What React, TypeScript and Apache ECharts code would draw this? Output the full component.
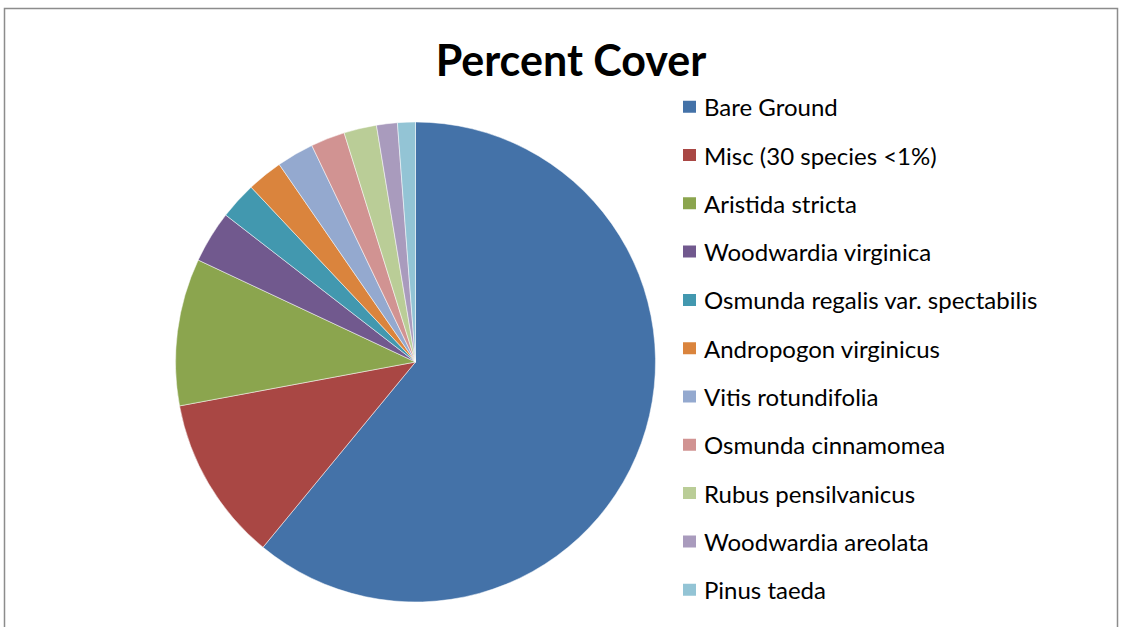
import React, { useEffect, useRef } from "react";
import * as echarts from "echarts";

const categories = [
  "Bare Ground",
  "Misc (30 species <1%)",
  "Aristida stricta",
  "Woodwardia virginica",
  "Osmunda regalis var. spectabilis",
  "Andropogon virginicus",
  "Vitis rotundifolia",
  "Osmunda cinnamomea",
  "Rubus pensilvanicus",
  "Woodwardia areolata",
  "Pinus taeda",
];
const values = [60.9, 11.1, 9.9, 3.5, 2.5, 2.4, 2.5, 2.3, 2.2, 1.4, 1.2];
const colors = [
  "#4472A8", "#A94744", "#8BA54E", "#71598E", "#4298AF", "#DA843D",
  "#94A9CF", "#D19392", "#BACD97", "#A99BBD", "#93C4D5",
];

export default function App() {
  const ref = useRef<HTMLDivElement>(null);
  useEffect(() => {
    if (!ref.current) return;
    const chart = echarts.init(ref.current, undefined, { renderer: "svg" });
    chart.setOption({
      animation: false,
      backgroundColor: "#ffffff",
      color: colors,
      title: {
        text: "Percent Cover",
        left: 571,
        textAlign: "center",
        top: 38,
        padding: 0,
        textStyle: { fontFamily: "Lato", fontWeight: "bold", fontSize: 43, color: "#000" },
      },
      legend: {
        orient: "vertical",
        left: 681,
        top: 94.7,
        padding: 0,
        itemWidth: 15,
        itemHeight: 14,
        itemGap: 24.3,
        icon: "rect",
        selectedMode: false,
        textStyle: { fontFamily: "Lato", fontSize: 24, color: "#000", lineHeight: 24, padding: [0, 0, 0, 2] },
        data: categories,
      },
      graphic: [
        {
          type: "rect",
          shape: { x: 4.5, y: 8.5, width: 1113, height: 660 },
          style: { fill: "none", stroke: "#8c8c8c", lineWidth: 1.5 },
          silent: true,
        },
      ],
      series: [
        {
          type: "pie",
          center: [415.5, 362],
          radius: 240,
          startAngle: 90,
          clockwise: true,
          label: { show: false },
          labelLine: { show: false },
          itemStyle: { borderColor: "#ffffff", borderWidth: 0.5 },
          emphasis: { disabled: true },
          data: categories.map((name, i) => ({ name, value: values[i] })),
        },
      ],
    });
    return () => chart.dispose();
  }, []);
  return (
    <div
      ref={ref}
      style={{ position: "fixed", left: 0, top: 0, width: 1123, height: 627 }}
    />
  );
}
